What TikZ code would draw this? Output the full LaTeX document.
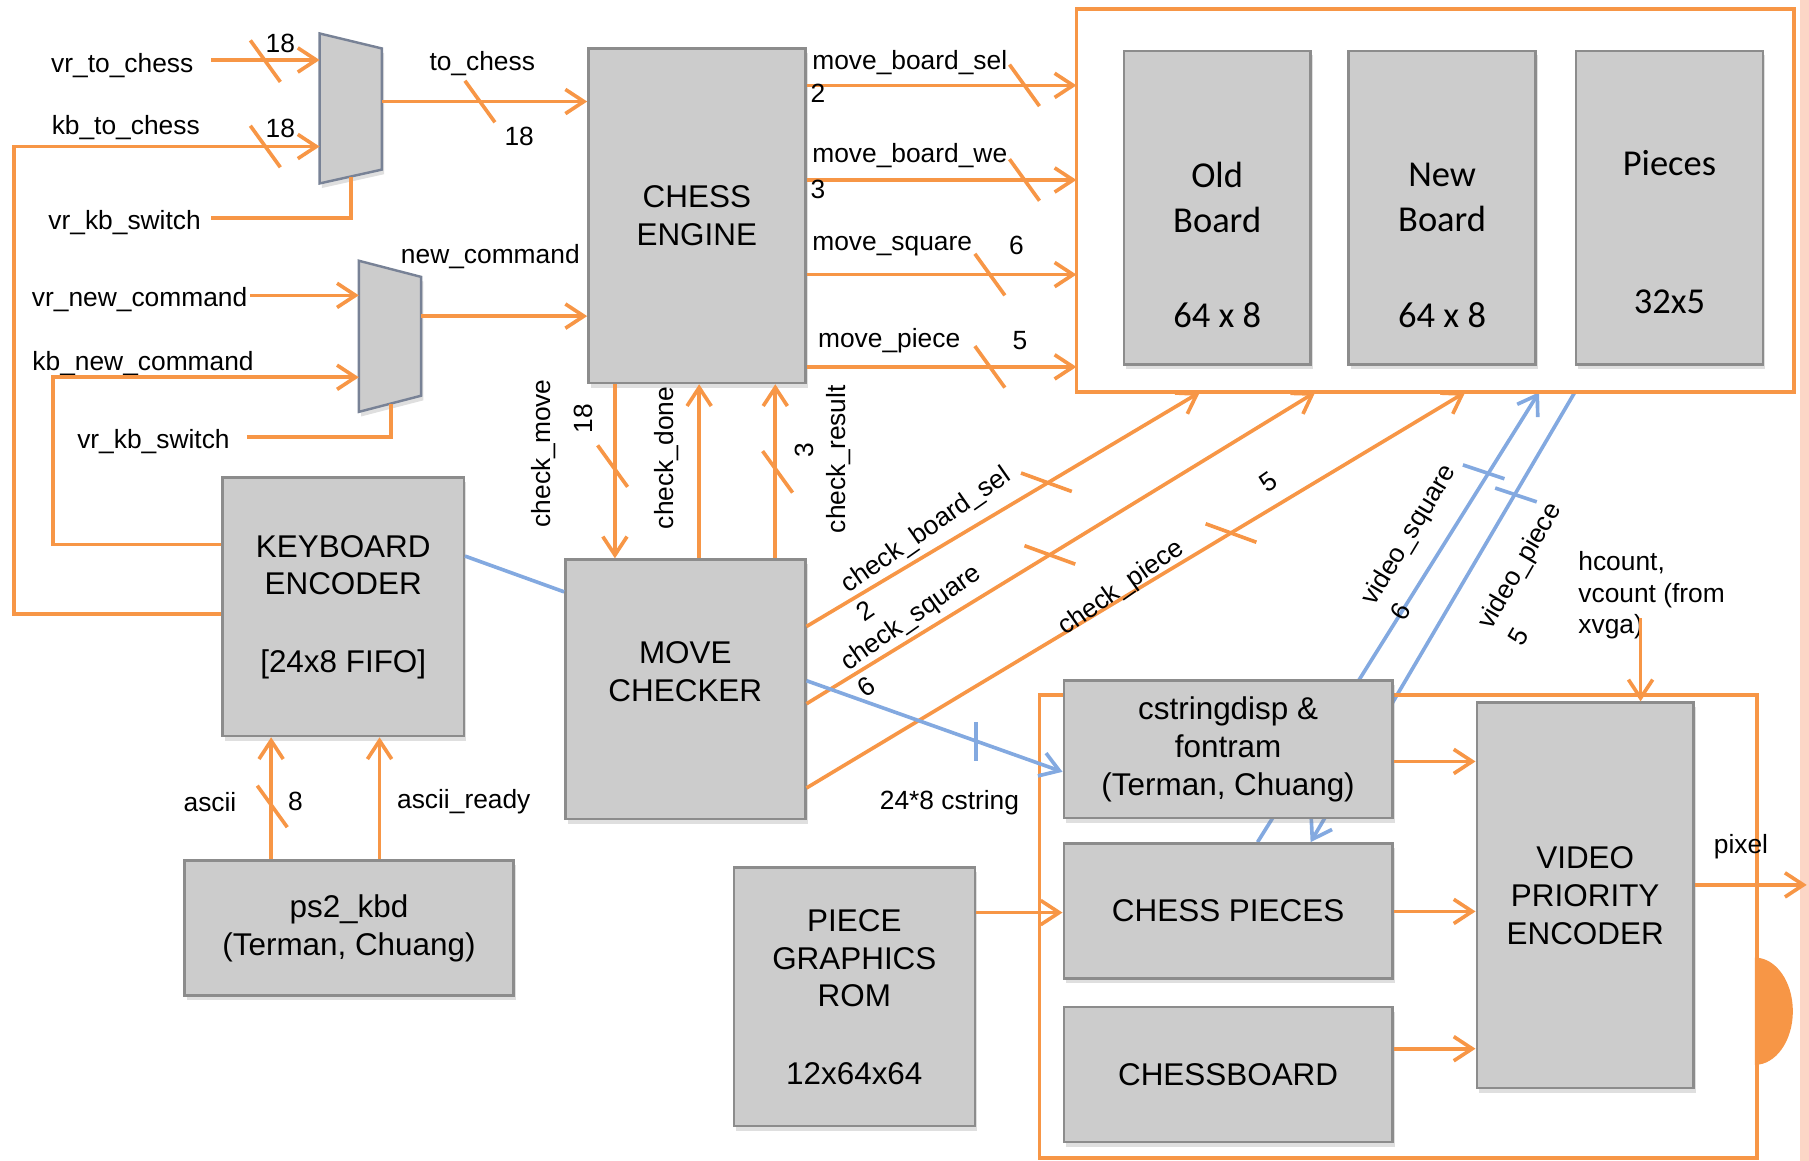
\documentclass[tikz,border=0pt]{standalone}
\usepackage{fontspec}
\setmainfont{Liberation Sans}
\newfontfamily\ramfont{Carlito}
\usetikzlibrary{arrows.meta,positioning,shadows}
\definecolor{sigorange}{RGB}{247,150,70}
\definecolor{sigblue}{RGB}{131,169,224}
\definecolor{boxgray}{RGB}{204,204,204}
\definecolor{boxline}{RGB}{140,140,140}
\definecolor{muxline}{RGB}{120,130,150}
\definecolor{pinkband}{RGB}{252,214,198}
\pgfdeclarelayer{back}
\pgfsetlayers{back,main}

\tikzset{
  wh/.style 2 args={minimum width=#1*0.2mm, minimum height=#2*0.2mm},
  blk/.style={draw=boxline, fill=boxgray, line width=1.2pt, align=center, inner sep=0pt,
    font=\fontsize{15.5}{18.7}\selectfont,
    drop shadow={opacity=0.25, shadow xshift=0.4mm, shadow yshift=-0.8mm}},
  blktxt/.style={align=center, inner sep=0pt, font=\fontsize{15.5}{18.7}\selectfont},
  ram/.style={blk},
  ramtxt/.style={align=center, inner sep=0pt, font=\ramfont\fontsize{18}{22.2}\selectfont},
  mux/.style={draw=muxline, fill=boxgray, line width=1.2pt,
    drop shadow={opacity=0.25, shadow xshift=0.4mm, shadow yshift=-0.8mm}},
  frame/.style={draw=sigorange, line width=1.8pt, inner sep=0pt, outer sep=0pt},
  sig/.style={draw=sigorange, line width=1.8pt},
  sigarr/.style={sig, -{Straight Barb[length=3.2mm, width=4.2mm]}},
  vid/.style={draw=sigblue, line width=1.8pt},
  vidarr/.style={vid, -{Straight Barb[length=3.2mm, width=4.2mm]}},
  lbl/.style={inner sep=1pt, font=\fontsize{13}{15.6}\selectfont},
}

\begin{document}
\begin{tikzpicture}[x=0.2mm, y=-0.2mm]
  \useasboundingbox (0,0) rectangle (1568,1006);
  \fill[pinkband] (1560,0) rectangle (1568,1006);
  \fill[sigorange] (1521,830) arc[start angle=-90, end angle=90, x radius=33, y radius=46.5] -- cycle;

  % memory and display frames
  \node[frame, wh={622}{332}] (mem) at (1244,174) {};
  \node[frame, wh={622}{401}] (disp) at (1212,803) {};

  % board memories
  \node[ram, wh={162}{272}] (oldb) at (1055,180) {};
  \node[ram, wh={162}{272}] (newb) at (1250,180) {};
  \node[ram, wh={162}{272}] (pcs) at (1447,180) {};
  \node[ramtxt] (oldb-t) at (1055,171) {Old\\Board};
  \node[ramtxt] (oldb-s) at (1055,273) {64 x 8};
  \node[ramtxt] (newb-t) at (1250,171) {New\\Board};
  \node[ramtxt] (newb-s) at (1250,273) {64 x 8};
  \node[ramtxt] (pcs-t) at (1447,141) {Pieces};
  \node[ramtxt] (pcs-s) at (1447,262) {32x5};

  % multiplexers
  \draw[mux] (277,29) -- (331,42) -- (331,147) -- (277,159) -- cycle;
  \draw[mux] (311,226) -- (365,240) -- (365,343) -- (311,357) -- cycle;
  \coordinate (muxa-i1) at (277,52);
  \coordinate (muxa-i2) at (277,127);
  \coordinate (muxa-s) at (304,153);
  \coordinate (muxa-o) at (331,88);
  \coordinate (muxb-i1) at (311,256);
  \coordinate (muxb-i2) at (311,327);
  \coordinate (muxb-s) at (339,350);
  \coordinate (muxb-o) at (365,274);

  % blocks
  \node[blk, wh={188}{290}] (engine) at (604,187) {CHESS\\ENGINE};
  \node[blk, wh={208}{225}] (checker) at (594,597.5) {};
  \node[blktxt] (checker-t) at (594,582) {MOVE\\CHECKER};
  \node[blk, wh={209}{224}] (kbenc) at (297.5,526) {KEYBOARD\\ENCODER\\[6.8mm]{[24x8 FIFO]}};
  \node[blk, wh={285}{117}] (ps2) at (302.5,804.5) {ps2\_kbd\\(Terman, Chuang)};
  \node[blk, wh={209}{224}] (rom) at (740.5,864) {PIECE\\GRAPHICS\\ROM\\[6.8mm]12x64x64};
  \node[blk, wh={285}{119}] (cdisp) at (1064.5,649.5) {cstringdisp \&\\fontram\\(Terman, Chuang)};
  \node[blk, wh={285}{117}] (cpieces) at (1064.5,789.5) {CHESS PIECES};
  \node[blk, wh={285}{117}] (cboard) at (1064.5,931.5) {CHESSBOARD};
  \node[blk, wh={188}{334}] (vpe) at (1374,776) {VIDEO\\PRIORITY\\ENCODER};

  % inputs of the multiplexers
  \node[lbl] (vrto) at (106,57) {vr\_to\_chess};
  \node[lbl] (vrto-w) at (243,38) {18};
  \node[lbl] (kbto) at (109,111) {kb\_to\_chess};
  \node[lbl] (kbto-w) at (243,111) {18};
  \node[lbl] (swa) at (108,193) {vr\_kb\_switch};
  \node[lbl] (vrnew) at (121,260) {vr\_new\_command};
  \node[lbl] (kbnew) at (124,315) {kb\_new\_command};
  \node[lbl] (swb) at (133,383) {vr\_kb\_switch};
  \coordinate (vrto-e) at (183,52);
  \coordinate (swa-e) at (183,189);
  \coordinate (vrnew-e) at (217,256);
  \coordinate (swb-e) at (214,379);
  \draw[sigarr] (vrto-e) -- (muxa-i1);
  \draw[sigarr] (kbenc.west |- 0,532) -| (12,127) -- (muxa-i2);
  \draw[sig] (swa-e) -| (muxa-s);
  \draw[sigarr] (vrnew-e) -- (muxb-i1);
  \draw[sigarr] (kbenc.west |- 0,472) -| (46,327) -- (muxb-i2);
  \draw[sig] (swb-e) -| (muxb-s);

  % into the engine
  \draw[sigarr] (muxa-o) -- (engine.west |- muxa-o);
  \draw[sigarr] (muxb-o) -- (engine.west |- muxb-o);
  \node[lbl] (toch) at (418,55) {to\_chess};
  \node[lbl] (toch-w) at (450,118) {18};
  \node[lbl] (newc) at (425,222) {new\_command};

  % engine to memories
  \foreach \y in {74,156,238,318}
    \draw[sigarr] (engine.east |- 0,\y) -- (mem.west |- 0,\y);
  \node[lbl, anchor=west] (mbsel) at (702,54) {move\_board\_sel};
  \node[lbl] (mbsel-w) at (709,81) {2};
  \node[lbl, anchor=west] (mbwe) at (702,135) {move\_board\_we};
  \node[lbl] (mbwe-w) at (709,164) {3};
  \node[lbl, anchor=west] (msq) at (702,213) {move\_square};
  \node[lbl] (msq-w) at (881,213) {6};
  \node[lbl, anchor=west] (mpc) at (707,295) {move\_piece};
  \node[lbl] (mpc-w) at (884,295) {5};

  % engine and checker
  \draw[sigarr] (engine.south -| 533,0) -- (checker.north -| 533,0);
  \draw[sigarr] (checker.north -| 606,0) -- (engine.south -| 606,0);
  \draw[sigarr] (checker.north -| 672,0) -- (engine.south -| 672,0);
  \node[lbl, rotate=90] (chmove) at (471,393) {check\_move};
  \node[lbl, rotate=90] (chmove-w) at (506,363) {18};
  \node[lbl, rotate=90] (chdone) at (578,397) {check\_done};
  \node[lbl, rotate=90] (chres) at (727,398) {check\_result};
  \node[lbl, rotate=90] (chres-w) at (697,390) {3};

  % checker to memories
  \draw[sigarr] (checker.east |- 0,543) -- (mem.south -| 1040,0);
  \draw[sigarr] (checker.east |- 0,610) -- (mem.south -| 1140,0);
  \draw[sigarr] (checker.east |- 0,683) -- (mem.south -| 1270,0);
  \node[lbl, rotate=35] (chbs) at (803,460) {check\_board\_sel};
  \node[lbl, rotate=35] (chbs-w) at (750,529) {2};
  \node[lbl, rotate=35] (chsq) at (790,536) {check\_square};
  \node[lbl, rotate=35] (chsq-w) at (751,595) {6};
  \node[lbl, rotate=35] (chpc) at (972,510) {check\_piece};
  \node[lbl, rotate=35] (chpc-w) at (1099,418) {5};

  % keyboard side
  \draw[sigarr] (ps2.north -| 235,0) -- (kbenc.south -| 235,0);
  \draw[sigarr] (ps2.north -| 329,0) -- (kbenc.south -| 329,0);
  \node[lbl] (asc) at (182,695) {ascii};
  \node[lbl] (asc-w) at (256,695) {8};
  \node[lbl] (ascr) at (402,695) {ascii\_ready};
  \draw[vid] (kbenc.east |- 0,482) -- (checker.west |- 0,513);

  % cstring and video lines
  \draw[vidarr] (checker.east |- 0,590) -- (cdisp.west |- 0,669);
  \node[lbl] (cstr) at (823,696) {24*8 cstring};
  \begin{pgfonlayer}{back}
    \draw[vidarr] (cpieces.north -| 1090,0) -- (mem.south -| 1334,0);
    \draw[vidarr] (mem.south -| 1365,0) -- (cpieces.north -| 1136,0);
  \end{pgfonlayer}
  \node[lbl, rotate=59] (vsq) at (1222,464) {video\_square};
  \node[lbl, rotate=59] (vsq-w) at (1214,530) {6};
  \node[lbl, rotate=60] (vpc) at (1318,491) {video\_piece};
  \node[lbl, rotate=60] (vpc-w) at (1316,552) {5};

  % display side
  \draw[sigarr] (rom.east |- 0,791) -- (cpieces.west |- 0,791);
  \draw[sigarr] (cdisp.east |- 0,660) -- (vpe.west |- 0,660);
  \draw[sigarr] (cpieces.east |- 0,790) -- (vpe.west |- 0,790);
  \draw[sigarr] (cboard.east |- 0,909) -- (vpe.west |- 0,909);
  \coordinate (pix-e) at (1566,767);
  \draw[sigarr] (vpe.east |- pix-e) -- (pix-e);
  \node[lbl] (pix) at (1509,734) {pixel};
  \node[lbl, anchor=west, align=left] (hv) at (1366,516) {hcount,\\vcount (from\\xvga)};
  \coordinate (hv-s) at (1422,536);
  \draw[sigarr] (hv-s) -- (vpe.north -| hv-s);

  % bus width marks
  \foreach \x/\y in {230/53,230/127,416/88,888/74,888/156,858/238,858/318,531/404,674/409,236/699}
    \draw[sig] (\x,\y) ++(-13,-18) -- ++(26,36);
  \foreach \x/\y in {907/418,910/481,1067/462}
    \draw[sig] (\x,\y) ++(-22,-8) -- ++(44,16);
  \foreach \x/\y in {1286/409,1314/429}
    \draw[vid] (\x,\y) ++(-18,-6) -- ++(36,12);
  \draw[vid] (846,626) -- (846,660);
\end{tikzpicture}
\end{document}
